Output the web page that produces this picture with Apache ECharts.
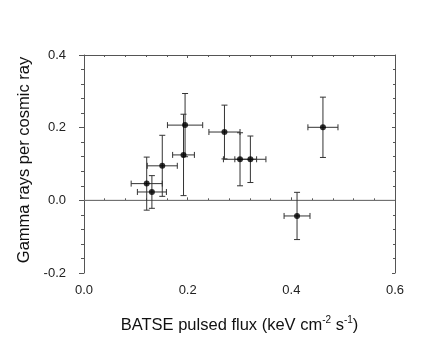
<!DOCTYPE html>
<html>
<head>
<meta charset="utf-8">
<script src="https://cdn.jsdelivr.net/npm/echarts@6/dist/echarts.min.js"></script>
<style>
  html, body { margin: 0; padding: 0; background: #fff; }
  #chart { width: 436px; height: 354px; }
</style>
</head>
<body>
<div id="chart"></div>
<script>
// flux vs gamma-ray ratio
const fluxVals = [0.121, 0.131, 0.151, 0.192, 0.195, 0.271, 0.301, 0.321, 0.411, 0.461]
const gammaVals = [0.046, 0.023, 0.095, 0.125, 0.207, 0.188, 0.113, 0.113, -0.043, 0.201]
const fluxErr = [0.030, 0.028, 0.029, 0.021, 0.034, 0.030, 0.032, 0.030, 0.025, 0.029]
const gammaErr = [0.073, 0.045, 0.084, 0.112, 0.087, 0.074, 0.073, 0.064, 0.065, 0.083]
const xTicks = [0, 0.2, 0.4, 0.6]
const yTicks = [-0.2, 0, 0.2, 0.4]

const chart = echarts.init(document.getElementById('chart'))

const errData = fluxVals.map((x, i) => [x, gammaVals[i], fluxErr[i], gammaErr[i]])
const pts = fluxVals.map((x, i) => [x, gammaVals[i]])

const lineCol = '#555'
const fontFam = '"Liberation Sans", Arial, sans-serif'

const option = {
  backgroundColor: '#fff',
  animation: false,
  grid: { left: 84, right: 41, top: 55, bottom: 81 },
  xAxis: [
    {
      type: 'value',
      min: xTicks[0],
      max: xTicks[xTicks.length - 1],
      interval: 0.2,
      name: 'BATSE pulsed flux (keV cm{sup|-2} s{sup|-1})',
      nameLocation: 'middle',
      nameGap: 42,
      nameTextStyle: {
        color: '#111', fontSize: 16.5, fontFamily: fontFam,
        rich: {
          sup: { fontSize: 10, color: '#111', fontFamily: fontFam, padding: [0, 0, 10, 0] }
        }
      },
      axisLine: { show: true, lineStyle: { color: lineCol, width: 1 } },
      axisTick: { show: true, inside: true, length: 3, lineStyle: { color: lineCol } },
      minorTick: { show: true, splitNumber: 5, length: 2, lineStyle: { color: lineCol } },
      axisLabel: {
        color: '#222', fontSize: 13, fontFamily: fontFam, margin: 11,
        formatter: v => v.toFixed(1)
      },
      splitLine: { show: false }
    },
    {
      type: 'value',
      position: 'top',
      min: xTicks[0],
      max: xTicks[xTicks.length - 1],
      interval: 0.2,
      axisLine: { show: true, onZero: false, lineStyle: { color: lineCol, width: 1 } },
      axisTick: { show: true, inside: true, length: 3, lineStyle: { color: lineCol } },
      minorTick: { show: true, splitNumber: 5, length: 2, lineStyle: { color: lineCol } },
      axisLabel: { show: false },
      splitLine: { show: false }
    }
  ],
  yAxis: [
    {
      type: 'value',
      min: yTicks[0],
      max: yTicks[yTicks.length - 1],
      interval: 0.2,
      name: 'Gamma rays per cosmic ray',
      nameLocation: 'middle',
      nameGap: 39,
      nameTextStyle: { color: '#111', fontSize: 16.5, fontFamily: fontFam, padding: [0, 0, 0, 8] },
      axisLine: { show: true, onZero: false, lineStyle: { color: lineCol, width: 1 } },
      axisTick: { show: true, inside: false, length: 5, lineStyle: { color: lineCol } },
      minorTick: { show: true, splitNumber: 5, length: 3, lineStyle: { color: lineCol } },
      axisLabel: {
        color: '#222', fontSize: 13, fontFamily: fontFam, margin: 18,
        formatter: v => v.toFixed(1)
      },
      splitLine: { show: false }
    },
    {
      type: 'value',
      position: 'right',
      min: yTicks[0],
      max: yTicks[yTicks.length - 1],
      interval: 0.2,
      axisLine: { show: true, onZero: false, lineStyle: { color: lineCol, width: 1 } },
      axisTick: { show: true, inside: true, length: 3, lineStyle: { color: lineCol } },
      minorTick: { show: true, splitNumber: 5, length: 2, lineStyle: { color: lineCol } },
      axisLabel: { show: false },
      splitLine: { show: false }
    }
  ],
  series: [
    {
      // zero line
      type: 'line',
      data: [[xTicks[0], 0], [xTicks[xTicks.length - 1], 0]],
      symbol: 'none',
      silent: true,
      lineStyle: { color: '#777', width: 1 },
      z: 1
    },
    {
      // error bars with caps
      type: 'custom',
      data: errData,
      z: 2,
      renderItem: function (params, api) {
        const x = api.value(0), y = api.value(1)
        const dx = api.value(2), dy = api.value(3)
        const l = api.coord([x - dx, y])
        const r = api.coord([x + dx, y])
        const t = api.coord([x, y + dy])
        const b = api.coord([x, y - dy])
        const c = 3
        const st = { stroke: '#333', lineWidth: 1, fill: null }
        const seg = (x1, y1, x2, y2) => ({ type: 'line', shape: { x1, y1, x2, y2 }, style: st })
        return {
          type: 'group',
          children: [
            seg(l[0], l[1], r[0], r[1]),
            seg(l[0], l[1] - c, l[0], l[1] + c),
            seg(r[0], r[1] - c, r[0], r[1] + c),
            seg(t[0], t[1], b[0], b[1]),
            seg(t[0] - c, t[1], t[0] + c, t[1]),
            seg(b[0] - c, b[1], b[0] + c, b[1])
          ]
        }
      }
    },
    {
      type: 'scatter',
      data: pts,
      symbol: 'circle',
      symbolSize: 6,
      itemStyle: { color: '#000' },
      z: 3
    }
  ]
}

chart.setOption(option)
</script>
</body>
</html>
